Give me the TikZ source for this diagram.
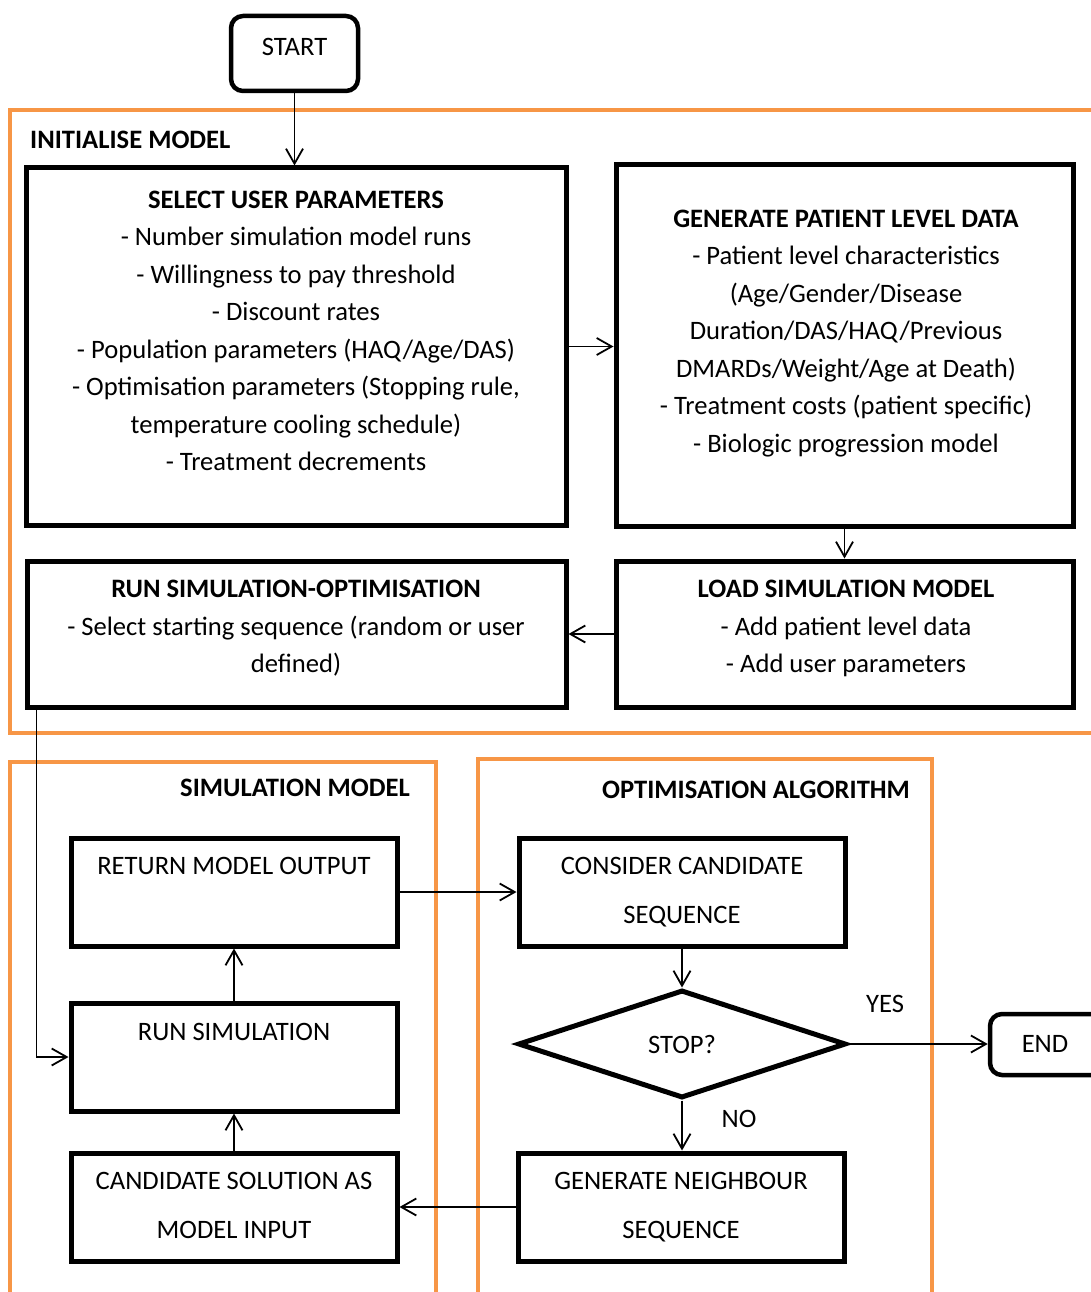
\documentclass[tikz,border=0pt]{standalone}
\usepackage{fontspec}
\setmainfont{Carlito}
\usetikzlibrary{arrows.meta,shapes.geometric}
\definecolor{frameorange}{RGB}{247,150,70}
\begin{document}
\begin{tikzpicture}[x=1pt,y=-1pt,
  blk/.style={draw, line width=5pt, rectangle, inner sep=0pt},
  term/.style={draw, line width=4.5pt, rectangle, rounded corners=12pt, inner sep=0pt},
  grp/.style={draw=frameorange, line width=4pt},
  flow/.style={line width=1.8pt, -{Straight Barb[length=15pt,width=17pt,line width=1.8pt]}},
  % multi-line texts are placed by the baseline of their last line
  txt/.style={font=\fontsize{26.6}{37.5}\selectfont, align=center, inner sep=0pt, anchor=base},
  wide/.style={font=\fontsize{26.6}{49}\selectfont, align=center, inner sep=0pt, anchor=base},
  hdr/.style={font=\fontsize{26.6}{37.5}\selectfont\bfseries, inner sep=0pt},
]
\useasboundingbox (0,0) rectangle (1091,1292);
\clip (0,0) rectangle (1091,1292);

% group frames
\draw[grp] (10,110) rectangle (1110,733);
\draw[grp] (10,762) rectangle (436,1320);
\draw[grp] (478,759) rectangle (932,1320);
\node[hdr, anchor=base west] (initlbl) at (30,148.5) {INITIALISE MODEL};
\node[hdr, anchor=base east] (simlbl) at (410,796.5) {SIMULATION MODEL};
\node[hdr, anchor=base] (optlbl) at (756,798.5) {OPTIMISATION ALGORITHM};

% terminals
\node[term, minimum width=127pt, minimum height=75pt] (start) at (294.5,53.5) {};
\node[txt] (starttxt) at (294.5,55.5) {START};
\node[term, minimum width=160pt, minimum height=61pt] (end) at (1070,1044.5) {};
\node[txt] (endtxt) at (1045,1052.5) {END};

% initialisation blocks
\node[blk, minimum width=540pt, minimum height=357pt] (sel) at (296,346.5) {};
\node[txt] (seltxt) at (296,470.5) {\textbf{SELECT USER PARAMETERS}\\
  - Number simulation model runs\\
  - Willingness to pay threshold\\
  - Discount rates\\
  - Population parameters (HAQ/Age/DAS)\\
  - Optimisation parameters (Stopping rule,\\
  temperature cooling schedule)\\
  - Treatment decrements};

\node[blk, minimum width=457pt, minimum height=361pt] (gen) at (844.5,345.5) {};
\node[txt] (gentxt) at (846,452) {\textbf{GENERATE PATIENT LEVEL DATA}\\
  - Patient level characteristics\\
  (Age/Gender/Disease\\
  Duration/DAS/HAQ/Previous\\
  DMARDs/Weight/Age at Death)\\
  - Treatment costs (patient specific)\\
  - Biologic progression model};

\node[blk, minimum width=457pt, minimum height=146pt] (load) at (844.5,634) {};
\node[txt] (loadtxt) at (846,672.5) {\textbf{LOAD SIMULATION MODEL}\\
  - Add patient level data\\
  - Add user parameters};

\node[blk, minimum width=539pt, minimum height=146pt] (runopt) at (296.5,634) {};
\node[txt] (runopttxt) at (296,672.5) {\textbf{RUN SIMULATION-OPTIMISATION}\\
  - Select starting sequence (random or user\\
  defined)};

% simulation model blocks
\node[blk, minimum width=326pt, minimum height=108pt] (ret) at (234,892) {};
\node[txt] (rettxt) at (234,874.5) {RETURN MODEL OUTPUT};
\node[blk, minimum width=326pt, minimum height=108pt] (runsim) at (234,1057) {};
\node[txt] (runsimtxt) at (234,1040.5) {RUN SIMULATION};
\node[blk, minimum width=326pt, minimum height=108pt] (cand) at (234,1207) {};
\node[wide] (candtxt) at (234,1238.5) {CANDIDATE SOLUTION AS\\MODEL INPUT};

% optimisation blocks
\node[blk, minimum width=326pt, minimum height=108pt] (cons) at (682,892) {};
\node[wide] (constxt) at (682,923.5) {CONSIDER CANDIDATE\\SEQUENCE};
\node[draw, line width=5pt, diamond, aspect=3.04, inner sep=0pt,
      minimum width=328pt, minimum height=108pt] (stop) at (682,1044) {};
\node[txt] (stoptxt) at (682,1053.5) {STOP?};
\node[blk, minimum width=326pt, minimum height=108pt] (nb) at (681,1207) {};
\node[wide] (nbtxt) at (681,1238.5) {GENERATE NEIGHBOUR\\SEQUENCE};
\node[txt] (yes) at (885,1012.5) {YES};
\node[txt] (no) at (739,1127.5) {NO};

% connectors
\draw[flow] (start.south) -- (start.south |- sel.north);
\draw[flow] (sel.east) -- (sel.east -| gen.west);
\draw[flow] (gen.south) -- (load.north);
\draw[flow] (load.west) -- (load.west -| runopt.east);
\draw[flow] ([xshift=12pt]runopt.south west) |- (runsim.west);
\draw[flow] (ret.east) -- (cons.west);
\draw[flow] (cons.south) -- (stop.north);
\draw[flow] (stop.east) -- (stop.east -| end.west);
\draw[flow] (stop.south) -- (stop.south |- nb.north);
\draw[flow] (nb.west) -- (nb.west -| cand.east);
\draw[flow] (cand.north) -- (runsim.south);
\draw[flow] (runsim.north) -- (ret.south);
\end{tikzpicture}
\end{document}
